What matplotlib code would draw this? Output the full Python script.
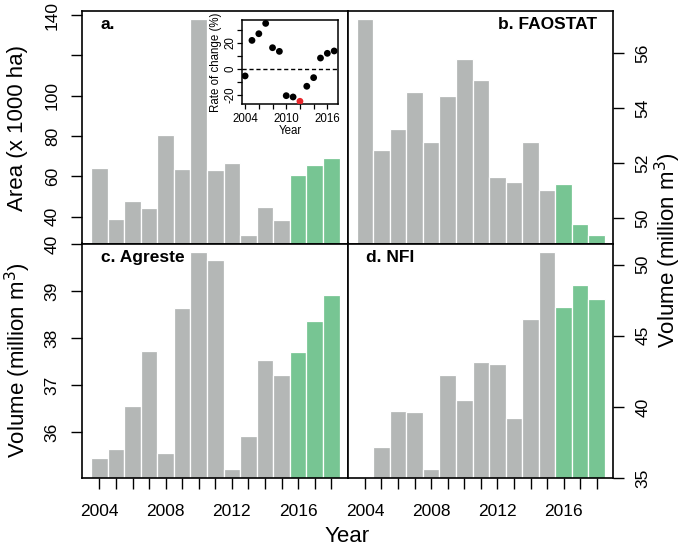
"""Four-panel bar chart: area and harvested volume per source, 2004-2018."""
import numpy as np
import matplotlib
matplotlib.use("Agg")
import matplotlib.pyplot as plt

plt.rcParams["font.family"] = ["Liberation Sans", "DejaVu Sans"]

YEARS = list(range(2004, 2019))
FORECAST_FROM = 2016

AREA = [64.0, 38.8, 47.9, 44.5, 80.5, 63.5, 138.0, 63.0, 66.4, 30.9,
        45.0, 38.2, 60.8, 65.8, 68.9]
FAOSTAT = [57.25, 52.48, 53.26, 54.58, 52.76, 54.45, 55.79, 55.03, 51.50,
           51.30, 52.79, 51.01, 51.25, 49.78, 49.39]
AGRESTE = [35.45, 35.64, 36.56, 37.73, 35.56, 38.64, 39.83, 39.65, 35.22,
           35.91, 37.53, 37.22, 37.70, 38.36, 38.91]
NFI = [np.nan, 37.16, 39.74, 39.67, 35.66, 42.21, 40.49, 43.15, 43.00,
       39.20, 46.20, 50.89, 47.04, 48.57, 47.58]

RATE_YEARS = list(range(2004, 2018))
RATE = [-5.3, 21.9, 27.0, 34.9, 16.3, 13.5, -20.4, -21.4, -24.7, -13.2,
        -6.6, 8.4, 12.0, 13.8]
RATE_HIGHLIGHT = 2012

X_LABELS = [2004, 2008, 2012, 2016]

GRAY = "#b4b7b6"
GREEN = "#77c593"
TICK_FS = 12.5
LAB_FS = 16
INS_FS = 8.3

W, H = 685, 548
fig = plt.figure(figsize=(W / 100, H / 100), dpi=100)

x0, xm, x1 = 82 / W, 347.5 / W, 613 / W
ytop, ymid, ybot = 1 - 11 / H, 1 - 243.5 / H, 1 - 478 / H


def panel(rect, values, ylim, yticks, ylabels, side, xaxis, title, title_ha):
    ax = fig.add_axes(rect)
    cols = [GREEN if y >= FORECAST_FROM else GRAY for y in YEARS]
    ax.bar(YEARS, values, width=1.0, color=cols, edgecolor="white",
           linewidth=0.9)
    ax.set_xlim(2002.95, 2018.98)
    ax.set_ylim(*ylim)
    for s in ax.spines.values():
        s.set_linewidth(1.2)
    ax.set_yticks(yticks)
    ax.set_yticklabels(ylabels, rotation=90, va="center")
    if side == "right":
        ax.yaxis.tick_right()
    ax.tick_params(axis="y", length=8, width=1.0, pad=8, labelsize=TICK_FS)
    if xaxis:
        ax.set_xticks(YEARS)
        ax.set_xticklabels([str(y) if y in X_LABELS else "" for y in YEARS])
        ax.tick_params(axis="x", length=8, width=1.0, pad=11,
                       labelsize=TICK_FS)
    else:
        ax.set_xticks([])
    tx = 0.07 if title_ha == "left" else 0.94
    ax.text(tx, 0.94, title, transform=ax.transAxes, ha=title_ha,
            va="center", fontsize=12.5, fontweight="bold")
    return ax


ax_a = panel([x0, ymid, xm - x0, ytop - ymid], AREA, (26.7, 142.0),
             [40, 60, 80, 100, 120, 140], ["40", "60", "80", "100", "", "140"],
             "left", False, "a.", "left")
ax_b = panel([xm, ymid, x1 - xm, ytop - ymid], FAOSTAT, (49.08, 57.54),
             [50, 52, 54, 56], ["50", "52", "54", "56"],
             "right", False, "b. FAOSTAT", "right")
ax_c = panel([x0, ybot, xm - x0, ymid - ybot], AGRESTE, (35.02, 40.01),
             [36, 37, 38, 39, 40], ["36", "37", "38", "39", "40"],
             "left", True, "c. Agreste", "left")
ax_d = panel([xm, ybot, x1 - xm, ymid - ybot], NFI, (35.0, 51.49),
             [35, 40, 45, 50], ["35", "40", "45", "50"],
             "right", True, "d. NFI", "left")

# inset: annual rate of change of area
ins = fig.add_axes([241.7 / W, 1 - 104.3 / H, 96.6 / W, 84.3 / H])
ins.axhline(0, color="black", lw=1.0, ls=(0, (3, 2)))
pt_cols = ["#e8262b" if y == RATE_HIGHLIGHT else "black" for y in RATE_YEARS]
ins.scatter(RATE_YEARS, RATE, s=24, c=pt_cols, zorder=3, linewidths=0)
ins.set_xlim(2003.5, 2017.6)
ins.set_ylim(-27.0, 37.5)
for s in ins.spines.values():
    s.set_linewidth(1.1)
ins.set_xticks(list(range(2004, 2017, 2)))
ins.set_xticklabels(["2004", "", "", "2010", "", "", "2016"])
ins.set_yticks([-20, -10, 0, 10, 20, 30])
ins.set_yticklabels(["-20", "", "0", "", "20", ""], rotation=90, va="center")
ins.tick_params(length=3.5, width=0.9, labelsize=INS_FS)
ins.tick_params(axis="x", pad=2.5)
ins.tick_params(axis="y", pad=0.5)
ins.set_xlabel("Year", fontsize=INS_FS, labelpad=0)
ins.set_ylabel("Rate of change (%)", fontsize=INS_FS, labelpad=1.5)

# axis titles
fig.text(18 / W, 1 - 128 / H, "Area (x 1000 ha)", rotation=90,
         ha="center", va="center", fontsize=LAB_FS)
fig.text(18 / W, 1 - 360 / H, "Volume (million m$^3$)", rotation=90,
         ha="center", va="center", fontsize=LAB_FS)
fig.text(668 / W, 1 - 250 / H, "Volume (million m$^3$)", rotation=90,
         ha="center", va="center", fontsize=LAB_FS)
fig.text(347.5 / W, 1 / H, "Year", ha="center", va="bottom",
         fontsize=LAB_FS)

fig.savefig("out.png", dpi=100)
